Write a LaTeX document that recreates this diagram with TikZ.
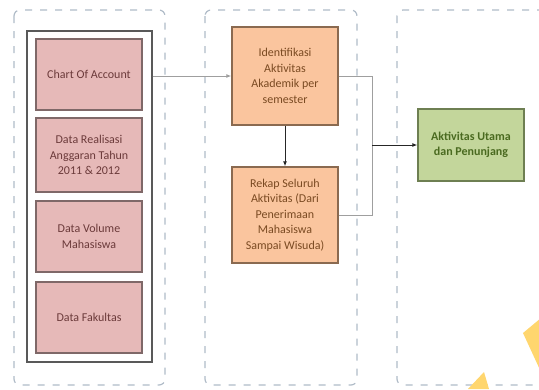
\documentclass[tikz,border=0pt]{standalone}
\usepackage{fontspec}
\setmainfont{Carlito}
\usetikzlibrary{arrows.meta}
\definecolor{pinkfill}{HTML}{E6B9B8}
\definecolor{pinkdraw}{HTML}{7F6868}
\definecolor{pinktext}{HTML}{6B3A3A}
\definecolor{orfill}{HTML}{FAC59E}
\definecolor{ordraw}{HTML}{8A6A50}
\definecolor{ortext}{HTML}{7A4A22}
\definecolor{grfill}{HTML}{C3D69B}
\definecolor{grdraw}{HTML}{6E7F52}
\definecolor{grtext}{HTML}{4A6A20}
\definecolor{panel}{HTML}{B0BCC8}
\definecolor{wm}{HTML}{FFD66E}
\tikzset{
  panelbox/.style={draw=panel, line width=1.2pt, dash pattern=on 7pt off 8pt, rounded corners=6pt},
  box/.style={line width=1.3pt, align=center, font=\fontsize{12}{15.5}\selectfont, inner sep=2pt},
  pinkbox/.style={box, fill=pinkfill, draw=pinkdraw, text=pinktext, minimum width=106pt, minimum height=71pt},
  orbox/.style={box, fill=orfill, draw=ordraw, text=ortext, minimum width=106pt},
  grbox/.style={box, fill=grfill, draw=grdraw, text=grtext, font=\bfseries\fontsize{12}{15.5}\selectfont, minimum width=106pt, minimum height=72pt},
  conn/.style={draw=gray!75, line width=1pt},
  arr/.style={draw=black!85, line width=1pt, -{Latex[length=5pt,width=4pt]}}
}
\begin{document}
\begin{tikzpicture}[x=1pt,y=-1pt]
\useasboundingbox (0,0) rectangle (539,389);
\fill[white] (0,0) rectangle (539,389);
\begin{scope}
\clip (0,0) rectangle (539,389);
% panels
\draw[panelbox] (14,10) rectangle (165,385);
\draw[panelbox] (205,10) rectangle (357,385);
\draw[panelbox] (397,10) rectangle (560,385);
% inner frame
\node[draw=gray!70!black, line width=1.3pt, minimum width=125pt, minimum height=331pt, inner sep=0pt] (frame) at (89.5,196.5) {};
% pink boxes
\node[pinkbox] (coa) at (89,74.5) {Chart Of Account};
\node[pinkbox, minimum height=74pt] (dra) at (89,155) {Data Realisasi\\Anggaran Tahun\\2011 \& 2012};
\node[pinkbox] (dvm) at (89,236.5) {Data Volume\\Mahasiswa};
\node[pinkbox] (dfk) at (89,317.5) {Data Fakultas};
% orange boxes
\node[orbox, minimum height=98pt] (ide) at (285,76) {Identifikasi\\Aktivitas\\Akademik per\\semester};
\node[orbox, minimum height=96pt] (rek) at (285,215) {Rekap Seluruh\\Aktivitas (Dari\\Penerimaan\\Mahasiswa\\Sampai Wisuda)};
% green box
\node[grbox] (akt) at (471,145) {Aktivitas Utama\\dan Penunjang};
\coordinate (j) at (372,145);
% connectors
\draw[conn, -{Latex[length=5pt,width=4pt]}] (frame.east |- ide.west) -- (ide.west);
\draw[arr] (ide.south) -- (rek.north);
\draw[conn] (ide.east) -| (j);
\draw[conn] (rek.east) -| (j);
\draw[arr] (j) -- (akt.west);
% watermark fragments
\fill[wm] (523,333) -- (541,318) -- (541,372) -- cycle;
\fill[wm] (468,389) -- (484,372) -- (489,389) -- cycle;
\end{scope}
\end{tikzpicture}
\end{document}
